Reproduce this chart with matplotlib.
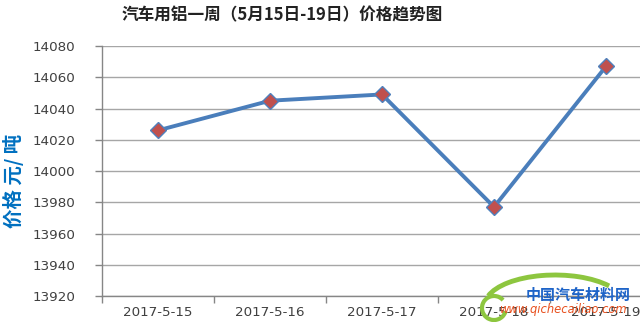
import matplotlib
matplotlib.use('Agg')
import matplotlib.pyplot as plt
from matplotlib.patches import Arc
from matplotlib.ticker import FixedLocator, NullFormatter

dates = ['2017-5-15', '2017-5-16', '2017-5-17', '2017-5-18', '2017-5-19']
prices = [14026, 14045, 14049, 13977, 14067]
y_ticks = [13920, 13940, 13960, 13980, 14000, 14020, 14040, 14060, 14080]

title = '汽车用铝一周（5月15日-19日）价格趋势图'
y_label = '价格 元/ 吨'

plt.rcParams['font.family'] = ['Noto Sans CJK SC', 'DejaVu Sans']

fig = plt.figure(figsize=(6.4, 3.22), dpi=100)
# plot area runs past the right edge like the original screenshot
ax = fig.add_axes([0.1594, 0.0807, 0.875, 0.7764])

x = list(range(len(dates)))
ax.plot(x, prices, color='#4A7EBB', linewidth=2.8, marker='D', markersize=8.5,
        markerfacecolor='#C0504D', markeredgecolor='#4F81BD', markeredgewidth=1.0,
        solid_joinstyle='round', zorder=3)

ax.set_xlim(-0.5, len(dates) - 0.5)
ax.set_ylim(y_ticks[0], y_ticks[-1])
ax.set_yticks(y_ticks)
ax.set_xticks(x)
ax.set_xticklabels(dates, family='DejaVu Sans', fontsize=9.7, color='#404040')
ax.xaxis.set_minor_locator(FixedLocator([i - 0.5 for i in range(len(dates) + 1)]))
ax.xaxis.set_minor_formatter(NullFormatter())
ax.tick_params(axis='x', which='major', length=0, pad=7)
ax.tick_params(axis='x', which='minor', length=5, color='#868686', width=1)
ax.tick_params(axis='y', length=5, color='#868686', width=1, pad=14,
               labelsize=9.7, labelcolor='#404040')
for lbl in ax.get_yticklabels():
    lbl.set_family('DejaVu Sans')

ax.grid(axis='y', color='#A6A6A6', linewidth=1)
ax.set_axisbelow(True)
for side in ['top', 'right']:
    ax.spines[side].set_visible(False)
for side in ['left', 'bottom']:
    ax.spines[side].set_color('#868686')
    ax.spines[side].set_linewidth(1)

fig.text(282 / 640, 0.953, title, ha='center', va='center', fontsize=12,
         fontweight='bold', color='#222222')
fig.text(0.021, 1 - 181 / 322, y_label, ha='center', va='center', rotation=90,
         fontsize=14, fontweight='bold', color='#0070C0')

# watermark logo in the lower right corner
fig.patches.append(Arc((555 / 640, 1 - 305 / 322), 140 / 640, 60 / 322, theta1=35, theta2=165,
                       transform=fig.transFigure, color='#8DC63F', linewidth=3.5))
fig.patches.append(Arc((494 / 640, 1 - 308 / 322), 24 / 640, 24 / 322, theta1=60, theta2=330,
                       transform=fig.transFigure, color='#8DC63F', linewidth=3))
fig.text(578 / 640, 1 - 295 / 322, '中国汽车材料网', ha='center', va='center',
         fontsize=10.8, fontweight='bold', style='italic', color='#1E64C8')
fig.text(563 / 640, 1 - 309 / 322, 'www.qichecailiao.com', ha='center', va='center',
         fontsize=8.3, style='italic', color='#E8501E', family='DejaVu Sans')

fig.savefig('out.png', dpi=100)
plt.close(fig)
